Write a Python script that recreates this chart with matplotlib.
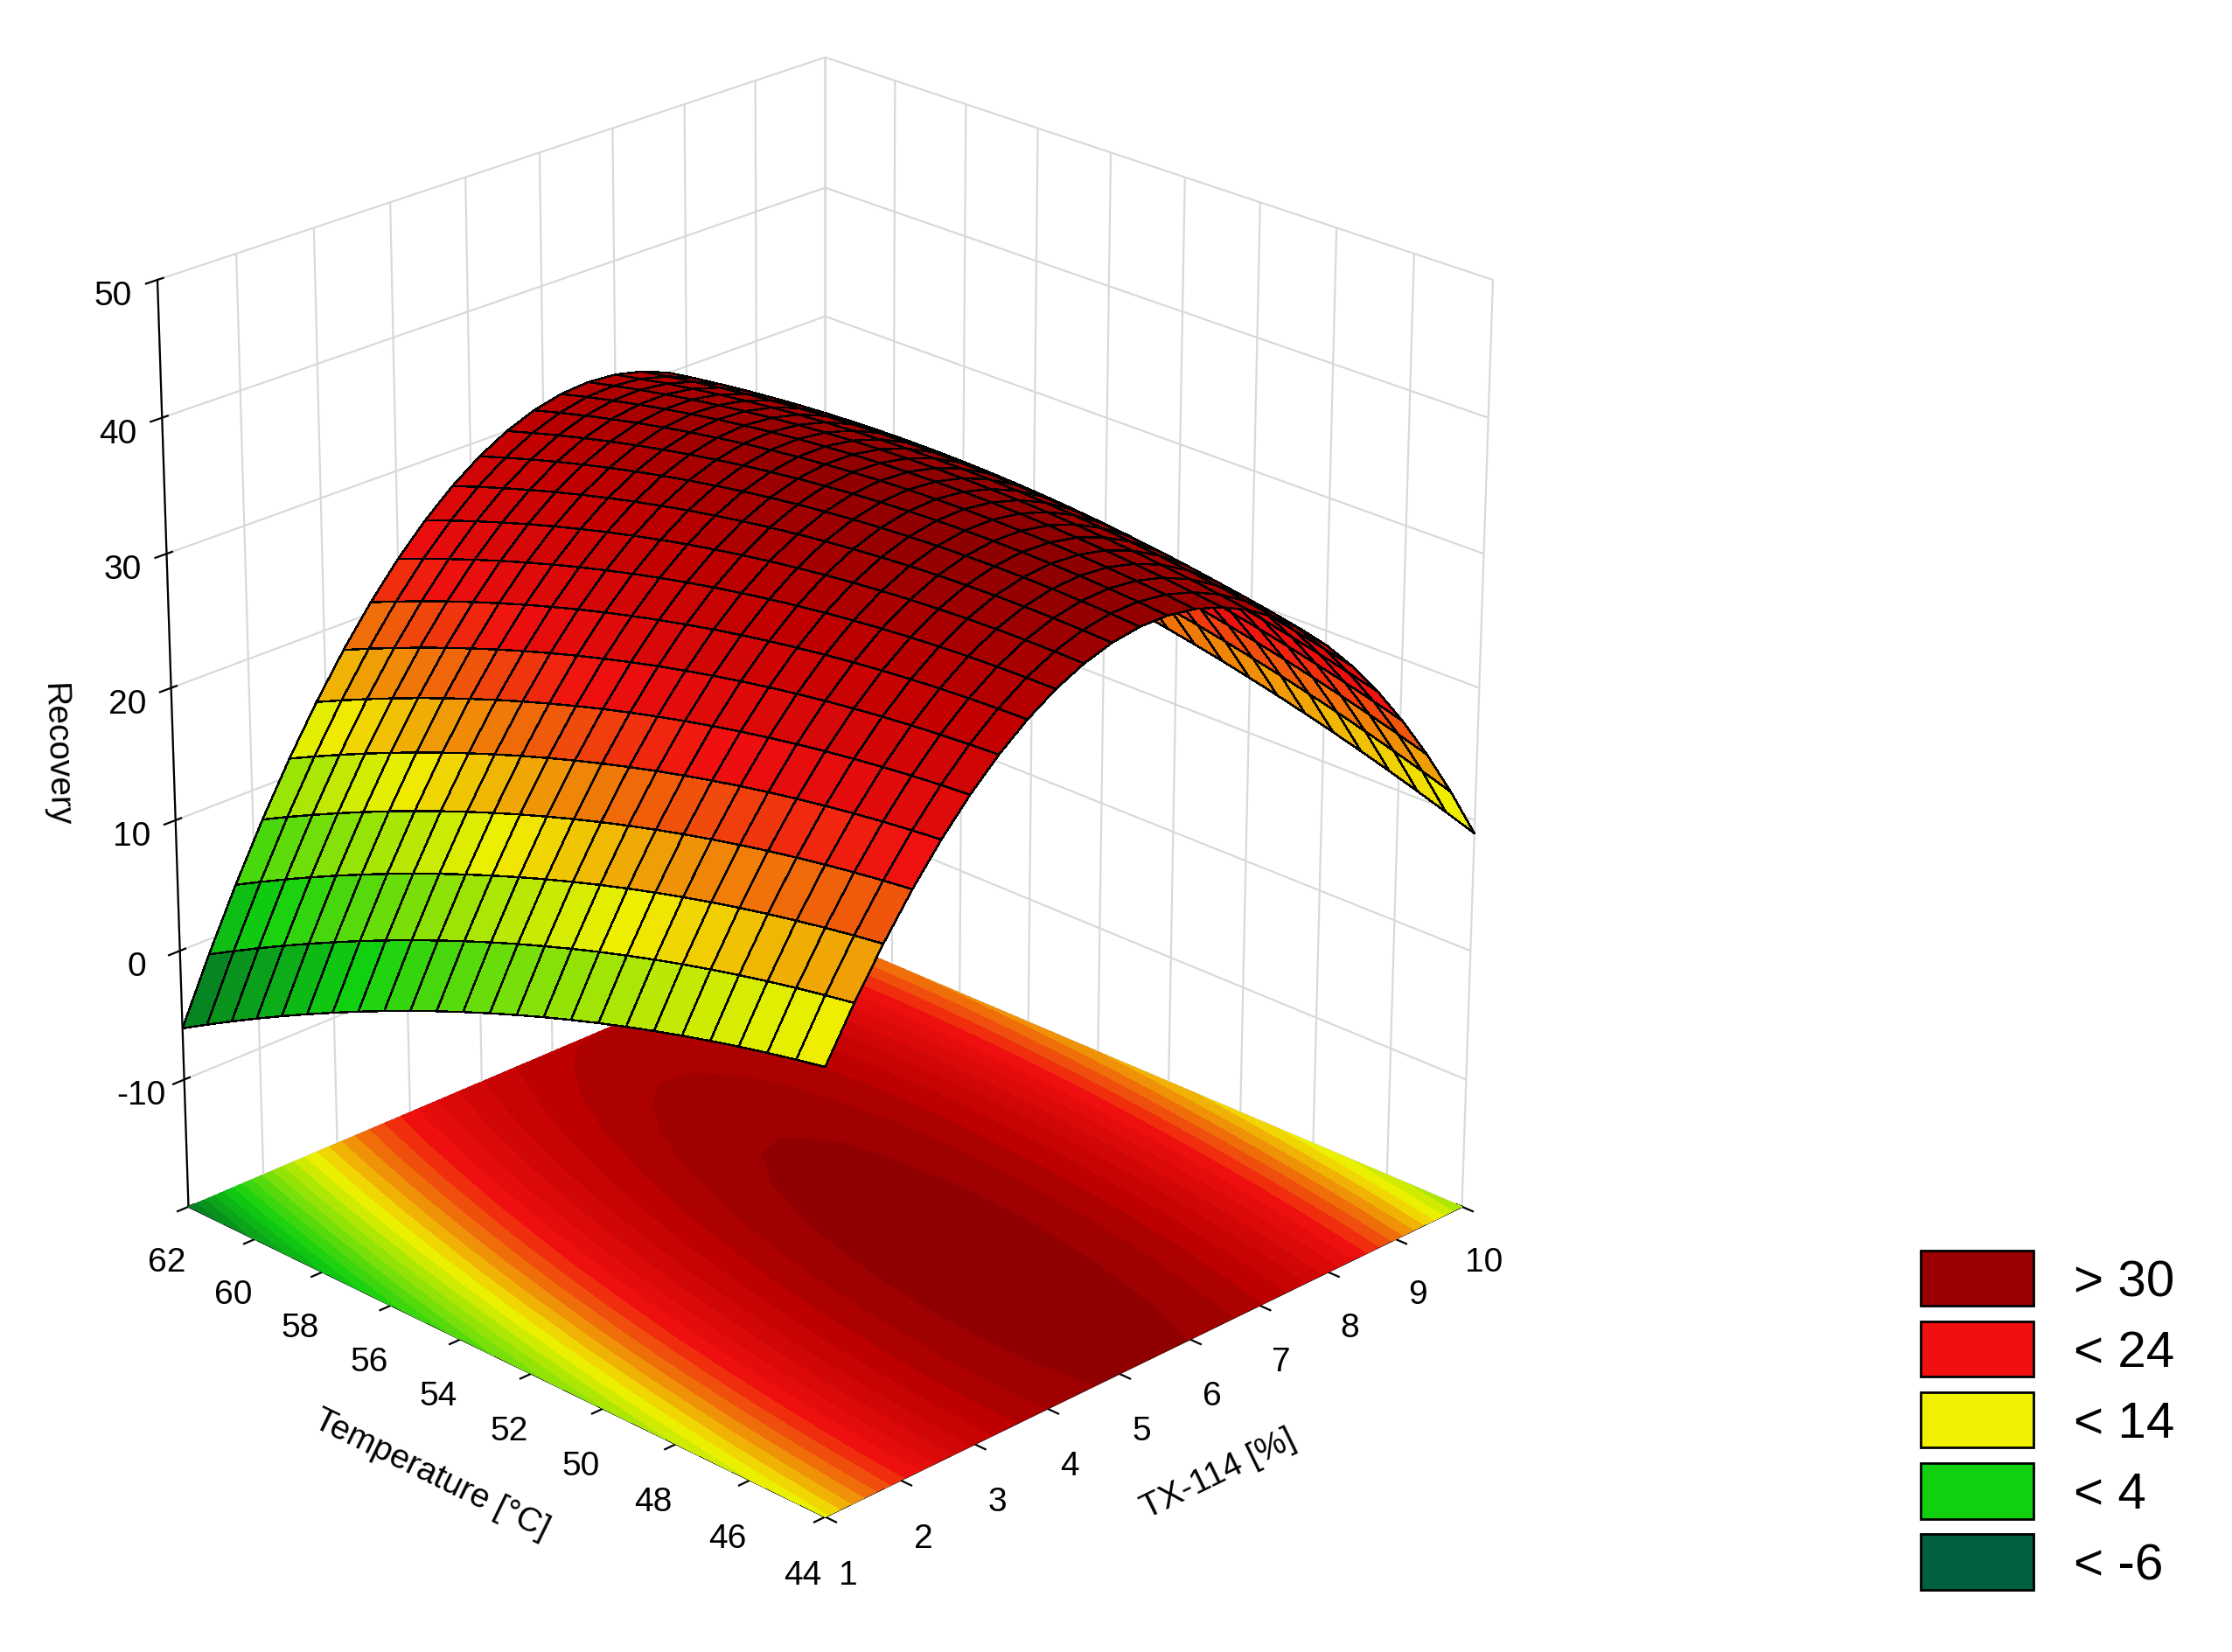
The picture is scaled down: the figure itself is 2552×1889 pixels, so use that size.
import numpy as np
import matplotlib
matplotlib.use("Agg")
import matplotlib.pyplot as plt
from matplotlib.colors import LinearSegmentedColormap
from matplotlib.patches import Patch

plt.rcParams["font.family"] = ["Liberation Sans", "DejaVu Sans"]
plt.rcParams["axes.unicode_minus"] = False

# Axis ranges / ticks
temp_ticks = [44, 46, 48, 50, 52, 54, 56, 58, 60, 62]
tx_ticks = [1, 2, 3, 4, 5, 6, 7, 8, 9, 10]
z_ticks = [-10, 0, 10, 20, 30, 40, 50]
# Quadratic response-surface coefficients (coded units)
# order: b0, bT, bTX, bTT, bTXTX, bT_TX
coef = [35.0, -2.5, 5.0, -2.5, -24.0, 7.0]
legend_labels = ["> 30", "< 24", "< 14", "< 4", "< -6"]
legend_colors = ["#9b0000", "#f01010", "#f0f000", "#10d010", "#006040"]

cmap = LinearSegmentedColormap.from_list(
    "stat", [(0.0, "#004a30"), (0.25, "#10d010"), (0.5, "#f0f000"),
             (0.72, "#f01010"), (0.88, "#c00000"), (1.0, "#8a0000")])

T = np.linspace(44, 62, 25)
X = np.linspace(1, 10, 25)
XX, TT = np.meshgrid(X, T)
u = (TT - 53) / 9
v = (XX - 5.5) / 4.5
b0, b1, b2, b11, b22, b12 = coef
Z = b0 + b1*u + b2*v + b11*u**2 + b22*v**2 + b12*u*v

fig = plt.figure(figsize=(12.76, 9.45), dpi=200)
ax = fig.add_axes([-0.05, 0.045, 0.82, 0.97], projection="3d")
vmin, vmax = -10, 36
floor = -20
ax.contourf(XX, TT, Z, levels=40, zdir="z", offset=floor, cmap=cmap, vmin=vmin, vmax=vmax)
fc = cmap(np.clip((Z - vmin) / (vmax - vmin), 0, 1))
ax.plot_surface(XX, TT, Z, facecolors=fc, edgecolor="black", linewidth=0.5, shade=False, antialiased=False)

ax.set_xlim(1, 10); ax.set_ylim(44, 62); ax.set_zlim(floor, 50)
ax.set_xticks(tx_ticks); ax.set_yticks(temp_ticks); ax.set_zticks(z_ticks)
ax.set_xlabel("TX-114 [%]", fontsize=14, labelpad=12)
ax.set_ylabel("Temperature [°C]", fontsize=14, labelpad=12)
ax.set_zlabel("Recovery", fontsize=14, labelpad=10)
ax.tick_params(labelsize=14)
ax.view_init(elev=24, azim=-135)
for a in (ax.xaxis, ax.yaxis, ax.zaxis):
    a.set_pane_color((1, 1, 1, 1))
    a._axinfo["grid"]["color"] = (0.85, 0.85, 0.85, 1)
ax.set_box_aspect((1, 1, 1.1))

handles = [Patch(facecolor=c, edgecolor="black", label=l) for c, l in zip(legend_colors, legend_labels)]
fig.legend(handles=handles, loc="lower right", bbox_to_anchor=(0.995, 0.01), frameon=False,
           fontsize=21, handlelength=2.2, handleheight=1.3, labelspacing=0.3)
fig.savefig("out.png", dpi=200, facecolor="white")
